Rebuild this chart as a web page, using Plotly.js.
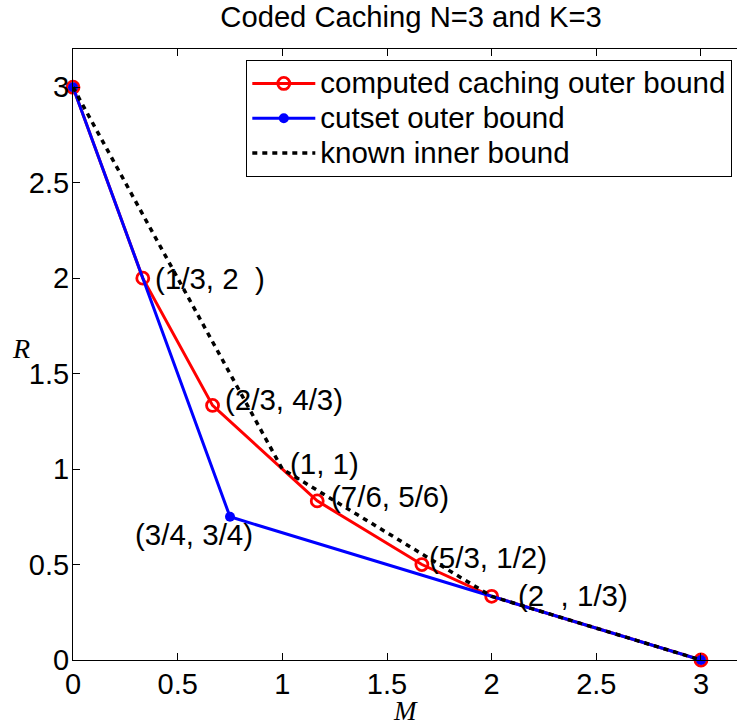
<!DOCTYPE html>
<html>
<head>
<meta charset="utf-8">
<script src="https://cdn.plot.ly/plotly-3.0.1.min.js"></script>
<style>html,body{margin:0;padding:0;background:#fff;}#chart{width:737px;height:726px;}</style>
</head>
<body>
<div id="chart"></div>
<script>
// ---- data ----
const computedM = [0, 1/3, 2/3, 7/6, 5/3, 2, 3];
const computedR = [3, 2, 4/3, 5/6, 1/2, 1/3, 0];
const cutsetM = [0, 3/4, 3];
const cutsetR = [3, 3/4, 0];
const innerM = [0, 1, 2, 3];
const innerR = [3, 1, 1/3, 0];
const seriesNames = ['computed caching outer bound', 'cutset outer bound', 'known inner bound'];
const xTicks = [0, 0.5, 1, 1.5, 2, 2.5, 3];
const yTicks = [0, 0.5, 1, 1.5, 2, 2.5, 3];
// point labels: [text, series, index]
const pointLabels = [
  ['(1/3, 2\u00a0\u00a0)', 'computed', 1],
  ['(2/3, 4/3)', 'computed', 2],
  ['(1, 1)', 'inner', 1],
  ['(7/6, 5/6)', 'computed', 3],
  ['(5/3, 1/2)', 'computed', 4],
  ['(2\u00a0\u00a0, 1/3)', 'computed', 5],
  ['(3/4, 3/4)', 'cutset', 1]
];
const chartTitle = 'Coded Caching N=3 and K=3';

// ---- styles ----
const labelShift = [[10, 0], [10, 6], [6, 6], [12, 4], [5, 7], [24, 1], [-97, -18]];
const FONT = '"Liberation Sans", Arial, Helvetica, sans-serif';
const SERIF = '"Liberation Serif", "Times New Roman", serif';
const TXT = 29.5;
const seriesXY = {
  computed: [computedM, computedR],
  cutset: [cutsetM, cutsetR],
  inner: [innerM, innerR]
};
const legendName = s => '<span style="font-size:' + TXT + 'px">' + s + '</span>';

const traces = [
  {x: computedM, y: computedR, name: legendName(seriesNames[0]), mode: 'lines+markers', type: 'scatter',
   line: {color: '#ff0000', width: 3},
   marker: {symbol: 'circle-open', size: 12, color: '#ff0000', line: {width: 2.8, color: '#ff0000'}},
   cliponaxis: false},
  {x: cutsetM, y: cutsetR, name: legendName(seriesNames[1]), mode: 'lines+markers', type: 'scatter',
   line: {color: '#0000ff', width: 3},
   marker: {symbol: 'circle', size: 10, color: '#0000ff'},
   cliponaxis: false},
  {x: innerM, y: innerR, name: legendName(seriesNames[2]), mode: 'lines', type: 'scatter',
   line: {color: '#000000', width: 3.5, dash: '5px,5px'},
   cliponaxis: false}
];

const annotations = pointLabels.map((p, i) => ({
  x: seriesXY[p[1]][0][p[2]], y: seriesXY[p[1]][1][p[2]],
  xref: 'x', yref: 'y', text: p[0], showarrow: false,
  xanchor: 'left', yanchor: 'middle',
  xshift: labelShift[i][0], yshift: labelShift[i][1],
  font: {family: FONT, size: TXT, color: '#000'}
}));
annotations.push({
  x: 0.5015, y: -0.0835, xref: 'paper', yref: 'paper', text: '<i>M</i>', showarrow: false,
  xanchor: 'center', yanchor: 'middle',
  font: {family: SERIF, size: 27, color: '#000'}
});
annotations.push({
  x: -0.078, y: 0.5106, xref: 'paper', yref: 'paper', text: '<i>R</i>', showarrow: false,
  xanchor: 'center', yanchor: 'middle',
  font: {family: SERIF, size: 28, color: '#000'}
});

const layout = {
  width: 737, height: 726,
  margin: {l: 73, r: 0, t: 49, b: 66, pad: 0},
  paper_bgcolor: '#fff', plot_bgcolor: '#fff',
  font: {family: FONT, size: 28, color: '#000'},
  title: {text: chartTitle, x: 0.5577, y: 1 - 17/726, xref: 'container', yref: 'container',
          xanchor: 'center', yanchor: 'middle', font: {family: FONT, size: 29.2, color: '#000'}},
  showlegend: true,
  legend: {x: 0.261, y: 0.982, xanchor: 'left', yanchor: 'top', bgcolor: '#fff',
           bordercolor: '#000', borderwidth: 1, font: {family: FONT, size: 24.5, color: '#000'},
           itemwidth: 63, tracegroupgap: 0},
  xaxis: {range: [0, 3.172], tickvals: xTicks, ticktext: xTicks.map(String),
          ticks: 'inside', ticklen: 7, tickwidth: 1, tickcolor: '#000',
          showline: true, linecolor: '#000', linewidth: 1, mirror: 'ticks',
          showgrid: false, zeroline: false, tickfont: {family: FONT, size: 29, color: '#000'},
          ticklabelstandoff: -2},
  yaxis: {range: [0, 3.2], tickvals: yTicks, ticktext: yTicks.map(String),
          ticks: 'inside', ticklen: 7, tickwidth: 1, tickcolor: '#000',
          showline: true, linecolor: '#000', linewidth: 1, mirror: false,
          showgrid: false, zeroline: false, tickfont: {family: FONT, size: 29, color: '#000'},
          ticklabelstandoff: -3},
  annotations: annotations
};

Plotly.newPlot('chart', traces, layout, {staticPlot: true, displayModeBar: false});
</script>
</body>
</html>
